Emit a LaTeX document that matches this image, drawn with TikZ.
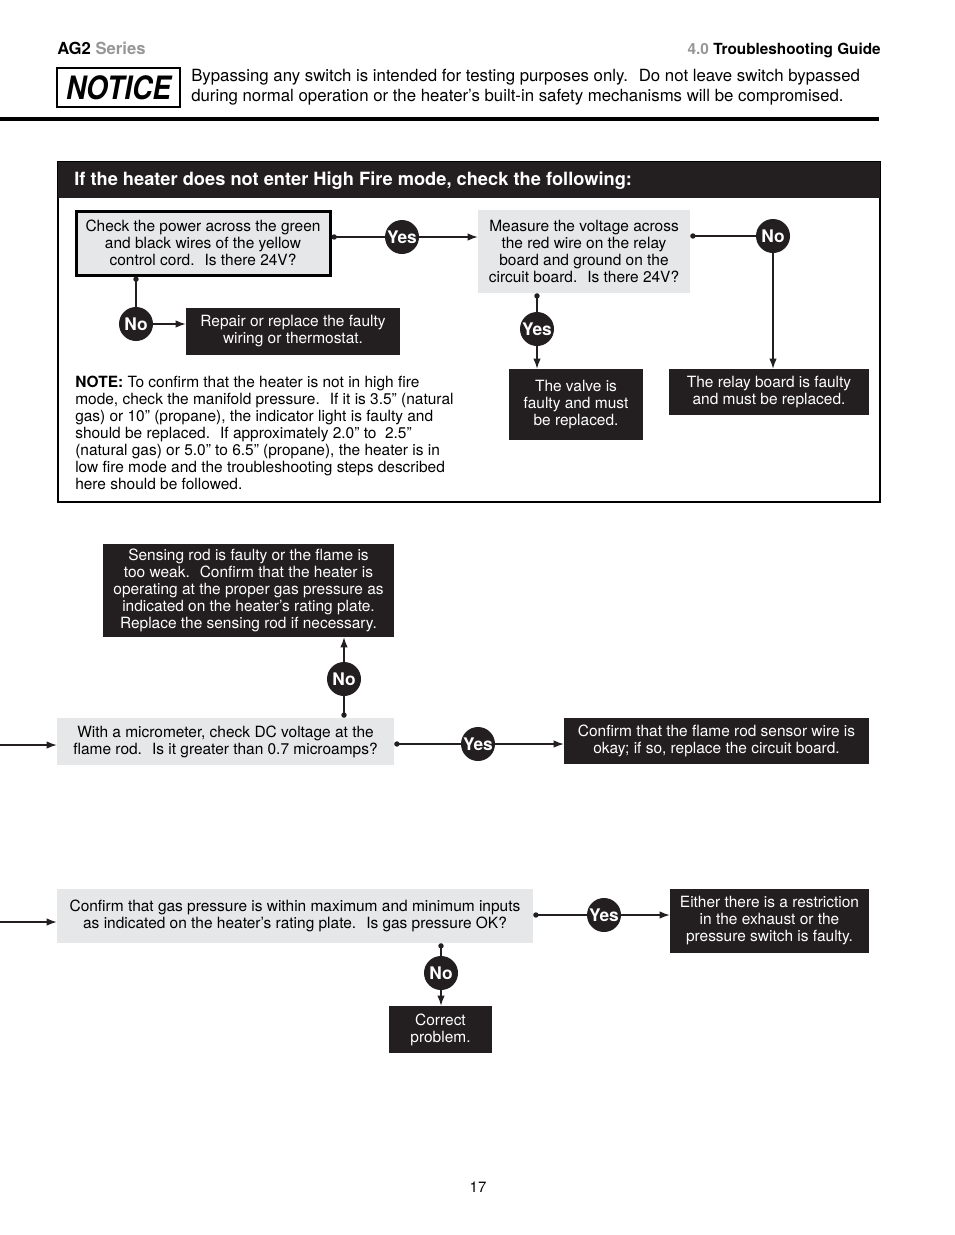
\documentclass[tikz,border=0pt]{standalone}
\usepackage{fontspec}
\setmainfont{TeX Gyre Heros}
\usetikzlibrary{arrows.meta,calc}
\definecolor{boxgrey}{RGB}{230,231,232}
\definecolor{boxblack}{RGB}{35,31,32}
\definecolor{headgrey}{RGB}{150,150,150}
\tikzset{
	qbox/.style = {fill=boxgrey, inner sep=0pt, align=center, font=\fontsize{11.6}{12.75}\selectfont},
	abox/.style = {fill=boxblack, text=white, inner sep=0pt, align=center, font=\fontsize{11.6}{12.75}\selectfont},
	answer/.style = {circle, fill=boxblack, text=white, inner sep=0pt, minimum size=25.5pt, font=\fontsize{13}{13}\selectfont\bfseries},
	flow/.style = {line width=0.9pt, boxblack},
	fromdot/.style = {flow, {Circle[length=4pt]}-},
	toarr/.style = {flow, -{Latex[length=7.5pt,width=5.5pt]}},
}

\begin{document}
\begin{tikzpicture}[x=0.75pt, y=-0.75pt]
	\useasboundingbox (0,0) rectangle (954,1235);
	% page head
	\node[anchor=base west, inner sep=0pt, font=\fontsize{12.5}{14}\selectfont\bfseries] (series) at (57,54) {AG2 \textcolor{headgrey}{Series}};
	\node[anchor=base east, inner sep=0pt, font=\fontsize{11.5}{14}\selectfont\bfseries] (guide) at (881,54) {\textcolor{headgrey}{4.0} Troubleshooting Guide};
	\node[draw, line width=0.9pt, minimum width=92.25pt, minimum height=29.25pt, inner sep=0pt, font=\fontsize{21}{21}\selectfont\bfseries\itshape] (notice) at (118.5,87.5) {\scalebox{1}[1.15]{NOTICE}};
	\node[anchor=west, inner sep=0pt, align=left, font=\fontsize{12.6}{15}\selectfont] (noticetext) at (191,87)
		{Bypassing any switch is intended for testing purposes only.~ Do not leave switch bypassed\\
		 during normal operation or the heater’s built-in safety mechanisms will be compromised.};
	\draw[line width=2.6pt] (0,119) -- (879,119);

	% high fire panel
	\draw[line width=0.8pt] (58,162) rectangle (880,502);
	\fill[boxblack] (58,162) rectangle (880,198);
	\node[anchor=west, inner sep=0pt, text=white, font=\fontsize{13.7}{15}\selectfont\bfseries] (title) at (74,181)
		{If the heater does not enter High Fire mode, check the following:};

	\node[qbox, draw, line width=2.25pt, minimum width=190.5pt, minimum height=48pt] (power) at (203,243) {Check the power across the green\\and black wires of the yellow\\control cord.~ Is there 24V?};
	\node[qbox, minimum width=159pt, minimum height=62.25pt] (relayv) at (584,251.5) {Measure the voltage across\\the red wire on the relay\\board and ground on the\\circuit board.~ Is there 24V?};
	\node[abox, minimum width=160.5pt, minimum height=35.25pt] (repair) at (293,331.5) {Repair or replace the faulty\\wiring or thermostat.};
	\node[abox, minimum width=100.5pt, minimum height=53.25pt] (valve) at (576,404.5) {The valve is\\faulty and must\\be replaced.};
	\node[abox, minimum width=150pt, minimum height=34.5pt] (relayb) at (769,392) {The relay board is faulty\\and must be replaced.};

	\node[answer] (yes1) at (402,237) {Yes};
	\node[answer] (no1) at (136,324) {No};
	\node[answer] (yes2) at (537,329) {Yes};
	\node[answer] (no2) at (773,236) {No};

	\draw[fromdot] (yes1 -| power.east) -- (yes1.west);
	\draw[toarr] (yes1.east) -- (yes1 -| relayv.west);
	\draw[fromdot] (no1 |- power.south) -- (no1.north);
	\draw[toarr] (no1.east) -- (no1 -| repair.west);
	\draw[fromdot] (yes2 |- relayv.south) -- (yes2.north);
	\draw[toarr] (yes2.south) -- (yes2 |- valve.north);
	\draw[fromdot] (no2 -| relayv.east) -- (no2.west);
	\draw[toarr] (no2.south) -- (no2 |- relayb.north);

	\node[anchor=north west, inner sep=0pt, align=left, font=\fontsize{11.6}{12.75}\selectfont] (note) at (75,376)
		{\textbf{NOTE:} To confirm that the heater is not in high fire\\
		 mode, check the manifold pressure.~ If it is 3.5” (natural\\
		 gas) or 10” (propane), the indicator light is faulty and\\
		 should be replaced.~ If approximately 2.0” to~ 2.5”\\
		 (natural gas) or 5.0” to 6.5” (propane), the heater is in\\
		 low fire mode and the troubleshooting steps described\\
		 here should be followed.};

	% flame rod
	\node[abox, minimum width=218.25pt, minimum height=69.75pt] (sensing) at (248.5,590.5) {Sensing rod is faulty or the flame is\\too weak.~ Confirm that the heater is\\operating at the proper gas pressure as\\indicated on the heater’s rating plate.\\Replace the sensing rod if necessary.};
	\node[qbox, minimum width=252.75pt, minimum height=35.25pt] (micro) at (225.5,741.5) {With a micrometer, check DC voltage at the\\flame rod.~ Is it greater than 0.7 microamps?};
	\node[abox, minimum width=228.75pt, minimum height=34.5pt] (sensor) at (716.5,741) {Confirm that the flame rod sensor wire is\\okay; if so, replace the circuit board.};
	\node[answer] (no3) at (344,679) {No};
	\node[answer] (yes3) at (478,744) {Yes};
	\coordinate (in1) at (0,745);

	\draw[toarr] (in1) -- (in1 -| micro.west);
	\draw[fromdot] (no3 |- micro.north) -- (no3.south);
	\draw[toarr] (no3.north) -- (no3 |- sensing.south);
	\draw[fromdot] (yes3 -| micro.east) -- (yes3.west);
	\draw[toarr] (yes3.east) -- (yes3 -| sensor.west);

	% gas pressure
	\node[qbox, minimum width=357pt, minimum height=40.5pt] (gas) at (295,916) {Confirm that gas pressure is within maximum and minimum inputs\\as indicated on the heater’s rating plate.~ Is gas pressure OK?};
	\node[abox, minimum width=149.25pt, minimum height=48pt] (restrict) at (769.5,921) {Either there is a restriction\\in the exhaust or the\\pressure switch is faulty.};
	\node[abox, minimum width=77.25pt, minimum height=35.25pt] (correct) at (440.5,1029.5) {Correct\\problem.};
	\node[answer] (yes4) at (604,915) {Yes};
	\node[answer] (no4) at (441,973) {No};
	\coordinate (in2) at (0,922);

	\draw[toarr] (in2) -- (in2 -| gas.west);
	\draw[fromdot] (yes4 -| gas.east) -- (yes4.west);
	\draw[toarr] (yes4.east) -- (yes4 -| restrict.west);
	\draw[fromdot] (no4 |- gas.south) -- (no4.north);
	\draw[toarr] (no4.south) -- (no4 |- correct.north);

	\node[font=\fontsize{11.2}{12}\selectfont] (page) at (478,1187) {17};
\end{tikzpicture}
\end{document}
